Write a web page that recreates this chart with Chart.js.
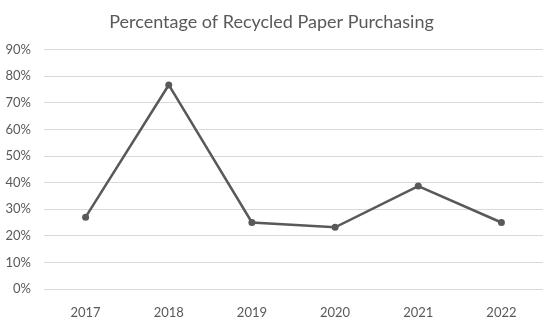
<!DOCTYPE html>
<html>
<head>
<meta charset="utf-8">
<script src="https://cdn.jsdelivr.net/npm/chart.js@4.4.0/dist/chart.umd.min.js"></script>
<style>
  html, body { margin: 0; padding: 0; background: #ffffff; }
  #wrap { width: 555px; height: 322px; position: relative; }
</style>
</head>
<body>
<div id="wrap"><canvas id="chart"></canvas></div>
<script>
// 年度とリサイクル紙の購入比率 (%)
const years = ['2017', '2018', '2019', '2020', '2021', '2022'];
const recycledShare = [27, 76.7, 25, 23.2, 38.7, 25];
const yTicks = [0, 10, 20, 30, 40, 50, 60, 70, 80, 90];

const gray = '#595959';
const fontFamily = 'Lato, "Open Sans", sans-serif';

const ctx = document.getElementById('chart').getContext('2d');
new Chart(ctx, {
  type: 'line',
  data: {
    labels: years,
    datasets: [
      {
        label: 'Percentage of Recycled Paper Purchasing',
        data: recycledShare,
        borderColor: gray,
        backgroundColor: gray,
        borderWidth: 2.5,
        pointRadius: 3.5,
        pointBackgroundColor: gray,
        pointBorderWidth: 0,
        tension: 0,
      },
    ],
  },
  options: {
    responsive: true,
    maintainAspectRatio: false,
    animation: false,
    layout: { padding: { top: 3, right: 12, left: 0, bottom: 0 } },
    plugins: {
      legend: { display: false },
      tooltip: { enabled: false },
      title: {
        display: true,
        text: 'Percentage of Recycled Paper Purchasing',
        color: gray,
        font: { family: fontFamily, size: 18, weight: 'normal' },
        padding: { top: 8, bottom: 17 },
      },
    },
    scales: {
      x: {
        offset: true,
        grid: { display: false },
        border: { display: false },
        ticks: {
          color: gray,
          font: { family: fontFamily, size: 13 },
          padding: 8,
        },
        afterFit: (scale) => { scale.height = 33; },
      },
      y: {
        min: 0,
        max: 90,
        afterBuildTicks: (scale) => {
          scale.ticks = yTicks.map((v) => ({ value: v }));
        },
        grid: { color: '#d9d9d9', lineWidth: 1, drawTicks: false },
        border: { display: false },
        ticks: {
          color: gray,
          font: { family: fontFamily, size: 13 },
          padding: 13,
          callback: (v) => v + '%',
        },
        afterFit: (scale) => { scale.width = 44; },
      },
    },
  },
});
</script>
</body>
</html>
